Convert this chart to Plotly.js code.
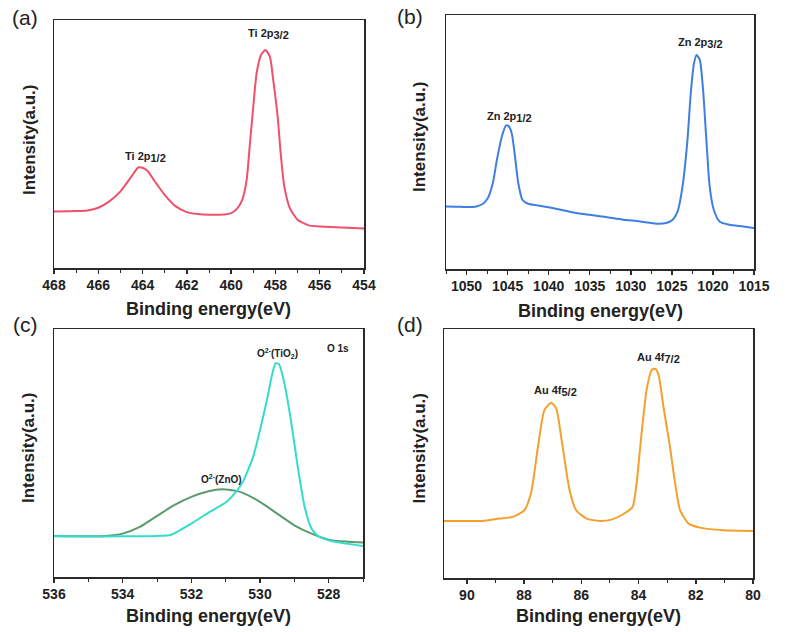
<!DOCTYPE html>
<html>
<head>
<meta charset="utf-8">
<script src="https://cdn.plot.ly/plotly-3.0.1.min.js"></script>
<style>html,body{margin:0;padding:0;background:#fff;}#chart{width:787px;height:632px;}</style>
</head>
<body>
<div id="chart"></div>
<script>
// Panel (a) Ti 2p
const tiEnergy = [468, 467, 466.5, 466, 465.5, 465, 464.5, 464.2, 464.0, 463.75, 463.5, 463.0, 462.5, 462.0, 461.5, 461.0, 460.5, 460.0, 459.75, 459.5, 459.3, 459.15, 459.0, 458.85, 458.65, 458.45, 458.25, 458.1, 457.9, 457.75, 457.6, 457.35, 457.0, 456.5, 456.0, 455.0, 454.0];
const tiIntensity = [170, 171, 173, 181, 200, 230, 275, 302, 301, 290, 265, 220, 185, 168, 162, 160, 160, 165, 177, 205, 265, 375, 485, 585, 640, 655, 635, 565, 455, 335, 245, 180, 145, 128, 125, 122, 119];

// Panel (b) Zn 2p
const znEnergy = [1052.5, 1051.2, 1050, 1048.8, 1048, 1047.4, 1046.8, 1046.3, 1045.7, 1045.2, 1044.9, 1044.5, 1044.1, 1043.7, 1043.2, 1042.5, 1041.1, 1039.1, 1037.0, 1035.0, 1033.0, 1030.9, 1028.9, 1026.9, 1025.7, 1024.9, 1024.3, 1023.7, 1023.1, 1022.7, 1022.3, 1022.0, 1021.6, 1021.2, 1020.8, 1020.4, 1019.9, 1019.2, 1018.0, 1016.3, 1015.0];
const znIntensity = [188, 187, 186, 188, 196, 213, 258, 328, 398, 431, 430, 408, 338, 258, 208, 196, 190, 181, 170, 163, 156, 148, 143, 136, 138, 148, 173, 248, 388, 528, 618, 643, 628, 538, 388, 248, 178, 143, 133, 128, 123];

// Panel (c) O 1s components
const oZnOEnergy = [536, 535, 534.5, 534.0, 533.5, 533.0, 532.5, 532.0, 531.5, 531.1, 530.7, 530.5, 530.0, 529.5, 529.0, 528.5, 528.0, 527.5, 527.0];
const oZnOIntensity = [123, 122, 123, 130, 150, 183, 215, 240, 257, 263, 258, 252, 225, 190, 155, 130, 112, 106, 103];
const oTiO2Energy = [536, 535, 534, 533, 532.6, 532.0, 531.5, 531.0, 530.7, 530.5, 530.2, 530.0, 529.8, 529.65, 529.55, 529.45, 529.3, 529.1, 528.9, 528.7, 528.5, 528.3, 528.0, 527.5, 527.0];
const oTiO2Intensity = [122, 121, 122, 123, 126, 160, 193, 223, 255, 285, 360, 440, 530, 605, 640, 638, 585, 470, 330, 210, 145, 122, 110, 100, 93];

// Panel (d) Au 4f
const auEnergy = [90.8, 90.0, 89.45, 88.87, 88.4, 87.99, 87.75, 87.5, 87.29, 87.05, 86.88, 86.67, 86.41, 86.18, 85.82, 85.36, 84.95, 84.54, 84.21, 84.07, 83.93, 83.72, 83.54, 83.42, 83.30, 83.13, 82.92, 82.72, 82.55, 82.25, 81.85, 81.03, 80.0];
const auIntensity = [171, 171, 171, 178, 183, 203, 258, 403, 503, 525, 508, 403, 263, 203, 178, 171, 175, 191, 213, 283, 403, 563, 623, 627, 608, 513, 403, 283, 203, 163, 151, 143, 141];

const xRanges = [[468, 454], [1052.5, 1015], [536, 527], [90.8, 80]];
const xTicks = [2, 5, 2, 2];
const yRanges = [[0, 745], [0, 763], [0, 743], [0, 746]];

const W = 787, H = 632;
const px = v => v / W;
const py = v => 1 - v / H;

const FONT = 'Liberation Sans, Arial, sans-serif';
const lineW = 2;

const traces = [
  {x: tiEnergy, y: tiIntensity, xaxis: 'x', yaxis: 'y', mode: 'lines', line: {color: '#f0506a', width: lineW, shape: 'spline', smoothing: 0.6}},
  {x: znEnergy, y: znIntensity, xaxis: 'x2', yaxis: 'y2', mode: 'lines', line: {color: '#3f7fe3', width: lineW, shape: 'spline', smoothing: 0.6}},
  {x: oZnOEnergy, y: oZnOIntensity, xaxis: 'x3', yaxis: 'y3', mode: 'lines', line: {color: '#5a9a6e', width: lineW, shape: 'spline', smoothing: 0.6}},
  {x: oTiO2Energy, y: oTiO2Intensity, xaxis: 'x3', yaxis: 'y3', mode: 'lines', line: {color: '#33dccb', width: lineW, shape: 'spline', smoothing: 0.6}},
  {x: auEnergy, y: auIntensity, xaxis: 'x4', yaxis: 'y4', mode: 'lines', line: {color: '#f5a02e', width: lineW, shape: 'spline', smoothing: 0.6}}
];

// plot boxes in pixels: [left, right, top, bottom]
const boxes = [[54, 364, 20, 268], [446, 754, 15, 269], [54, 363, 329, 577], [444, 753, 329, 578]];

function xaxis(i) {
  const b = boxes[i];
  return {
    domain: [px(b[0]), px(b[1])], range: xRanges[i], anchor: i === 0 ? 'y' : 'y' + (i + 1),
    showline: true, mirror: true, linecolor: '#2a2a2a', linewidth: 1.5,
    ticks: 'outside', ticklen: 4, tickwidth: 1.5, tickcolor: '#2a2a2a', dtick: xTicks[i], tick0: 0,
    minor: {ticks: 'outside', ticklen: 3, tickwidth: 1, tickcolor: '#2a2a2a', dtick: xTicks[i] / 2},
    tickfont: {family: FONT, size: 14, color: '#222', weight: 'bold'},
    showgrid: false, zeroline: false, fixedrange: true
  };
}
function yaxis(i) {
  const b = boxes[i];
  return {
    domain: [py(b[3]), py(b[2])], range: yRanges[i], anchor: i === 0 ? 'x' : 'x' + (i + 1),
    showline: true, mirror: true, linecolor: '#2a2a2a', linewidth: 1.5,
    ticks: '', showticklabels: false, showgrid: false, zeroline: false, fixedrange: true
  };
}

const annotations = [];
function ann(text, x, y, size, opts) {
  annotations.push(Object.assign({text: text, x: px(x), y: py(y), xref: 'paper', yref: 'paper', showarrow: false,
    xanchor: 'center', yanchor: 'middle', font: {family: FONT, size: size, color: '#222'}}, opts || {}));
}
const big = s => '<sub><span style="font-size:11px">' + s + '</span></sub>';
// panel labels
ann('(a)', 25, 17, 21);
ann('(b)', 410, 16, 21);
ann('(c)', 25, 324, 21);
ann('(d)', 410, 324, 21);
// axis titles
const xTitleY = [309, 311, 616, 616];
const yTitleX = [29, 419, 28, 419];
boxes.forEach((b, i) => {
  ann('<b>Binding energy(eV)</b>', (b[0] + b[1]) / 2, xTitleY[i], 18);
  ann('<b>Intensity(a.u.)</b>', yTitleX[i], (b[2] + b[3]) / 2 - 5, 17, {textangle: -90});
});
// peak labels
ann('<b>Ti 2p' + big('1/2') + '</b>', 145, 157, 11);
ann('<b>Ti 2p' + big('3/2') + '</b>', 268, 34, 11);
ann('<b>Zn 2p' + big('1/2') + '</b>', 510, 117, 11);
ann('<b>Zn 2p' + big('3/2') + '</b>', 700, 43, 11);
ann('<b>O<sup>2-</sup>(TiO<sub>2</sub>)</b>', 277, 353, 10);
ann('<b>O 1s</b>', 338, 348, 10);
ann('<b>O<sup>2-</sup>(ZnO)</b>', 222, 479, 10);
ann('<b>Au 4f' + big('5/2') + '</b>', 555, 391, 11);
ann('<b>Au 4f' + big('7/2') + '</b>', 658, 358, 11);

const layout = {
  width: W, height: H, margin: {l: 0, r: 0, t: 0, b: 0},
  paper_bgcolor: '#fff', plot_bgcolor: '#fff', showlegend: false,
  xaxis: xaxis(0), yaxis: yaxis(0),
  xaxis2: xaxis(1), yaxis2: yaxis(1),
  xaxis3: xaxis(2), yaxis3: yaxis(2),
  xaxis4: xaxis(3), yaxis4: yaxis(3),
  annotations: annotations
};

Plotly.newPlot('chart', traces, layout, {staticPlot: true});
</script>
</body>
</html>
